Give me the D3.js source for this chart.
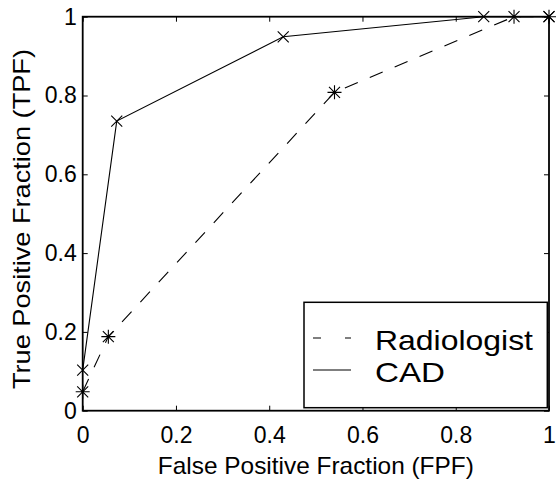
<!DOCTYPE html>
<html>
<head>
<meta charset="utf-8">
<script src="https://cdn.jsdelivr.net/npm/d3@7"></script>
<style>
  html, body { margin: 0; padding: 0; background: #fff; }
  svg { display: block; font-family: "Liberation Sans", Arial, Helvetica, sans-serif; }
</style>
</head>
<body>
<svg id="chart" width="557" height="481"></svg>
<script>
// ---- data ----
const radFPF = [0, 0.055, 0.54, 0.925, 1];
const radTPF = [0.048, 0.188, 0.808, 1.0, 1.0];
const cadFPF = [0, 0.073, 0.43, 0.86, 1];
const cadTPF = [0.103, 0.735, 0.949, 1.0, 1.0];
const seriesNames = ["Radiologist", "CAD"];
const tickValues = [0, 0.2, 0.4, 0.6, 0.8, 1];
const xTitle = "False Positive Fraction (FPF)";
const yTitle = "True Positive Fraction (TPF)";

// ---- layout ----
const L = 82.7, R = 549, T = 16.7, B = 410.7;
const svg = d3.select("#chart");
const x = d3.scaleLinear().domain([0, 1]).range([L, R]);
const y = d3.scaleLinear().domain([0, 1]).range([B, T]);
const fmt = d => d3.format("")(+d.toFixed(1));

function styleAxis(g, showLabels) {
  g.select(".domain").remove();
  g.selectAll(".tick line").attr("stroke", "#000").attr("stroke-width", 1);
  g.selectAll(".tick text").attr("fill", "#000").attr("font-size", 23)
    .attr("font-family", "Liberation Sans, Arial, sans-serif");
  if (!showLabels) g.selectAll(".tick text").remove();
}

svg.append("g").attr("transform", `translate(0,${B})`)
  .call(d3.axisBottom(x).tickValues(tickValues).tickFormat(fmt).tickSizeInner(-5).tickSizeOuter(0).tickPadding(12))
  .call(g => styleAxis(g, true))
  .call(g => g.selectAll(".tick text").attr("dy", "0.71em").attr("y", 16));
svg.append("g").attr("transform", `translate(0,${T})`)
  .call(d3.axisTop(x).tickValues(tickValues).tickSizeInner(-5).tickSizeOuter(0))
  .call(g => styleAxis(g, false));
svg.append("g").attr("transform", `translate(${L},0)`)
  .call(d3.axisLeft(y).tickValues(tickValues).tickFormat(fmt).tickSizeInner(-5).tickSizeOuter(0))
  .call(g => styleAxis(g, true))
  .call(g => g.selectAll(".tick text").attr("x", -6));
svg.append("g").attr("transform", `translate(${R},0)`)
  .call(d3.axisRight(y).tickValues(tickValues).tickSizeInner(-5).tickSizeOuter(0))
  .call(g => styleAxis(g, false));

// frame
svg.append("rect").attr("x", L).attr("y", T).attr("width", R - L).attr("height", B - T)
  .attr("fill", "none").attr("stroke", "#000").attr("stroke-width", 1.8);

// titles
svg.append("text").attr("x", (L + R) / 2).attr("y", 474).attr("text-anchor", "middle")
  .attr("font-size", 24).attr("textLength", 316).attr("lengthAdjust", "spacingAndGlyphs").text(xTitle);
svg.append("text").attr("transform", `translate(30,${219}) rotate(-90)`).attr("text-anchor", "middle")
  .attr("font-size", 24).attr("textLength", 340).attr("lengthAdjust", "spacingAndGlyphs").text(yTitle);

// series
const rad = radFPF.map((v, i) => [v, radTPF[i]]);
const cad = cadFPF.map((v, i) => [v, cadTPF[i]]);
const line = d3.line().x(d => x(d[0])).y(d => y(d[1]));

svg.append("path").datum(rad).attr("d", line).attr("fill", "none")
  .attr("stroke", "#000").attr("stroke-width", 1.1).attr("stroke-dasharray", "14,13");
svg.append("path").datum(cad).attr("d", line).attr("fill", "none")
  .attr("stroke", "#000").attr("stroke-width", 1.1);

const s = 5.5;
function cross(g, d) {
  g.append("path").attr("d", `M${-s},${-s}L${s},${s}M${-s},${s}L${s},${-s}`);
}
function star(g, d) {
  const a = 7;
  g.append("path").attr("d", `M${-a},0L${a},0M0,${-a}L0,${a}M${-s},${-s}L${s},${s}M${-s},${s}L${s},${-s}`);
}
svg.append("g").selectAll("g").data(cad).join("g")
  .attr("transform", d => `translate(${x(d[0])},${y(d[1])})`)
  .attr("stroke", "#000").attr("stroke-width", 1.1).attr("fill", "none")
  .each(function(d) { cross(d3.select(this), d); });
svg.append("g").selectAll("g").data(rad).join("g")
  .attr("transform", d => `translate(${x(d[0])},${y(d[1])})`)
  .attr("stroke", "#000").attr("stroke-width", 1.1).attr("fill", "none")
  .each(function(d) { star(d3.select(this), d); });

// legend
const lg = svg.append("g");
lg.append("rect").attr("x", 304).attr("y", 302.3).attr("width", 243.3).attr("height", 105.4)
  .attr("fill", "#fff").attr("stroke", "#000").attr("stroke-width", 1.5);
const legY = [338, 370];
const dashes = ["8,24", null];
const legLen = [158, 70];
seriesNames.forEach((name, i) => {
  lg.append("line").attr("x1", 313).attr("x2", 351).attr("y1", legY[i]).attr("y2", legY[i])
    .attr("stroke", "#000").attr("stroke-width", 1.1).attr("stroke-dasharray", dashes[i]);
  lg.append("text").attr("x", 375).attr("y", legY[i] + 12).attr("font-size", 28)
    .attr("textLength", legLen[i]).attr("lengthAdjust", "spacingAndGlyphs").text(name);
});
</script>
</body>
</html>
